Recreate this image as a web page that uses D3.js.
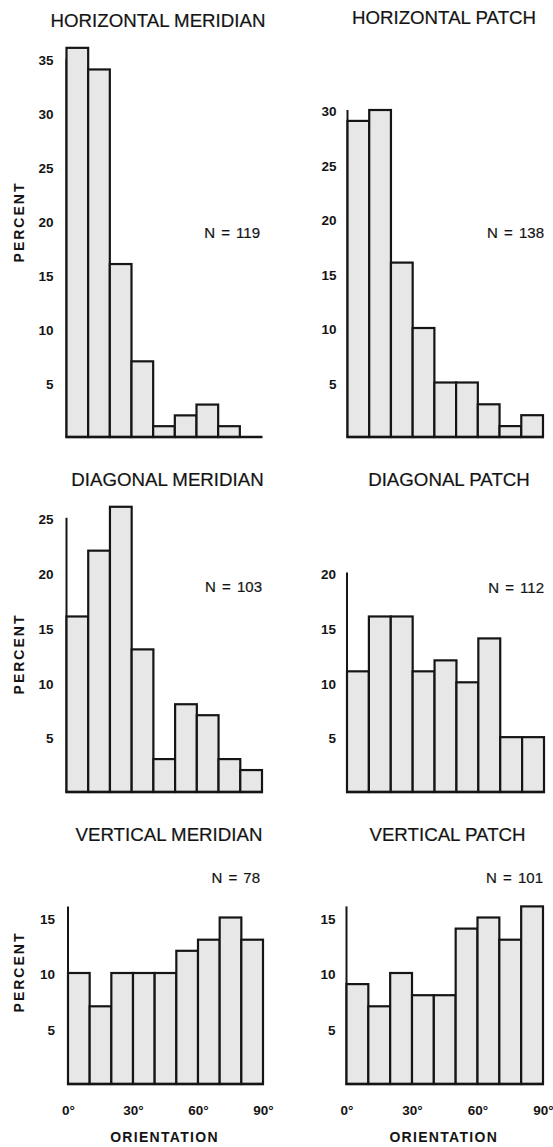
<!DOCTYPE html>
<html>
<head>
<meta charset="utf-8">
<script src="https://cdn.jsdelivr.net/npm/d3@7"></script>
<style>
  html, body { margin: 0; padding: 0; background: #fff; }
  svg { display: block; }
  text { font-family: "Liberation Sans", Arial, Helvetica, sans-serif; fill: #141414; }
  text.medium { stroke: #141414; stroke-width: 0.2px; }
</style>
</head>
<body>
<svg id="chart" width="553" height="1147"></svg>
<script>
// Orientation bins (degrees, start of each 10° bin)
const binStarts = [0, 10, 20, 30, 40, 50, 60, 70, 80];

// Percent of units per orientation bin
const horizontalMeridian = [36, 34, 16, 7, 1, 2, 3, 1, 0];
const horizontalPatch    = [29, 30, 16, 10, 5, 5, 3, 1, 2];
const diagonalMeridian   = [16, 22, 26, 13, 3, 8, 7, 3, 2];
const diagonalPatch      = [11, 16, 16, 11, 12, 10, 14, 5, 5];
const verticalMeridian   = [10, 7, 10, 10, 10, 12, 13, 15, 13];
const verticalPatch      = [9, 7, 10, 8, 8, 14, 15, 13, 16];

const panelTitles = [
  "HORIZONTAL MERIDIAN", "HORIZONTAL PATCH",
  "DIAGONAL MERIDIAN", "DIAGONAL PATCH",
  "VERTICAL MERIDIAN", "VERTICAL PATCH"
];
const sampleSizes = [119, 138, 103, 112, 78, 101];
const axisTops = [35, 30, 25, 20, 16, 16];
const yTickValues = [
  [5, 10, 15, 20, 25, 30, 35],
  [5, 10, 15, 20, 25, 30],
  [5, 10, 15, 20, 25],
  [5, 10, 15, 20],
  [5, 10, 15],
  [5, 10, 15]
];
const xTickValues = [0, 30, 60, 90];
const xTickLabels = ["0°", "30°", "60°", "90°"];
const yAxisTitle = "PERCENT";
const xAxisTitle = "ORIENTATION";

const series = [horizontalMeridian, horizontalPatch, diagonalMeridian,
                diagonalPatch, verticalMeridian, verticalPatch];

// Page layout of the six small histograms
const layout = [
  { x0: 66.5, x1: 261.5, base: 437,  k: 10.81, tx: 158,   ty: 26.5, nx: 260, ny: 238, py: 222, left: true,  bottom: false },
  { x0: 347.5, x1: 543,  base: 437,  k: 10.9,  tx: 444,   ty: 23.5, nx: 544, ny: 238, left: false, bottom: false },
  { x0: 66.5, x1: 262,   base: 792,  k: 10.97, tx: 167.5, ty: 486,  nx: 262, ny: 592, py: 654, left: true,  bottom: false },
  { x0: 347,  x1: 544,   base: 792,  k: 10.97, tx: 449,   ty: 486,  nx: 544, ny: 593, left: false, bottom: false },
  { x0: 68,   x1: 263,   base: 1084, k: 11.1,  tx: 169,   ty: 841,  nx: 260, ny: 883, py: 972, left: true,  bottom: true },
  { x0: 346.5, x1: 543,  base: 1084, k: 11.1,  tx: 447.5, ty: 841,  nx: 543, ny: 883, left: false, bottom: true }
];

const svg = d3.select("#chart");

series.forEach((values, i) => {
  const L = layout[i];
  const g = svg.append("g");

  const x = d3.scaleLinear().domain([0, 90]).range([L.x0, L.x1]);
  const y = d3.scaleLinear().domain([0, axisTops[i]])
    .range([L.base, L.base - axisTops[i] * L.k]);

  // Title
  g.append("text")
    .attr("class", "medium")
    .attr("x", L.tx).attr("y", L.ty)
    .attr("text-anchor", "middle")
    .style("font-size", "18.7px")
    .text(panelTitles[i]);

  // Vertical axis line
  g.append("line")
    .attr("x1", x(0)).attr("x2", x(0))
    .attr("y1", y(0)).attr("y2", y(axisTops[i]))
    .attr("stroke", "#151515").attr("stroke-width", 2);

  // Bars
  g.selectAll("rect.bar")
    .data(values.map((v, j) => ({ start: binStarts[j], v })).filter(d => d.v > 0))
    .join("rect")
    .attr("class", "bar")
    .attr("x", d => x(d.start))
    .attr("width", d => x(d.start + 10) - x(d.start))
    .attr("y", d => y(d.v))
    .attr("height", d => y(0) - y(d.v))
    .attr("fill", "#e7e7e7")
    .attr("stroke", "#151515")
    .attr("stroke-width", 2.2);

  // Baseline
  g.append("line")
    .attr("x1", x(0) - 1).attr("x2", x(90) + 1)
    .attr("y1", y(0)).attr("y2", y(0))
    .attr("stroke", "#151515").attr("stroke-width", 2.6);

  // Y tick labels
  const yAxis = d3.axisLeft(y).tickValues(yTickValues[i])
    .tickSize(0).tickPadding(L.left ? 13 : 11).tickFormat(d3.format("d"));
  const ya = g.append("g").attr("transform", `translate(${x(0)},1.5)`).call(yAxis);
  ya.select(".domain").remove();
  ya.selectAll("text")
    .style("font-size", "13.5px").style("font-weight", "bold")
    .style("font-family", '"Liberation Sans", Arial, sans-serif')
    .attr("fill", "#141414");

  // Sample size
  g.append("text")
    .attr("class", "medium")
    .attr("x", L.nx).attr("y", L.ny)
    .attr("text-anchor", "end")
    .style("font-size", "15px")
    .style("word-spacing", "2px")
    .text("N = " + sampleSizes[i]);

  // Y axis title
  if (L.left) {
    g.append("text")
      .attr("transform", `translate(24,${L.py}) rotate(-90)`)
      .attr("text-anchor", "middle")
      .style("font-size", "14px").style("font-weight", "bold")
      .style("letter-spacing", "2px")
      .text(yAxisTitle);
  }

  // X tick labels and axis title on the bottom row
  if (L.bottom) {
    const xAxis = d3.axisBottom(x).tickValues(xTickValues)
      .tickSize(0).tickPadding(21)
      .tickFormat((d, j) => xTickLabels[j]);
    const xa = g.append("g").attr("transform", `translate(0,${y(0)})`).call(xAxis);
    xa.select(".domain").remove();
    xa.selectAll("text")
      .style("font-size", "13.5px").style("font-weight", "bold")
      .style("font-family", '"Liberation Sans", Arial, sans-serif')
      .attr("fill", "#141414");

    g.append("text")
      .attr("x", (L.x0 + L.x1) / 2 - 1).attr("y", 1141.5)
      .attr("text-anchor", "middle")
      .style("font-size", "14px").style("font-weight", "bold")
      .style("letter-spacing", "1.3px")
      .text(xAxisTitle);
  }
});
</script>
</body>
</html>
